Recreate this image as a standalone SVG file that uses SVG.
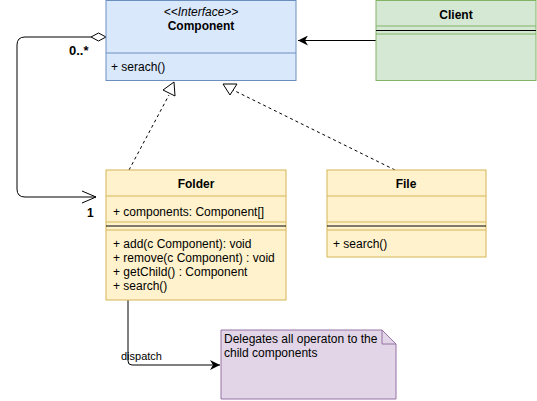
<svg xmlns="http://www.w3.org/2000/svg" width="537" height="401" viewBox="0 0 537 401">
<defs>
<style>
text{font-family:"Liberation Sans",Arial,sans-serif;font-size:12px;fill:#000}
.b{font-weight:bold}
.c{text-anchor:middle}
.blue{fill:#dae8fc;stroke:#6c8ebf}
.green{fill:#d5e8d4;stroke:#82b366}
.yellow{fill:#fff2cc;stroke:#d6b656}
.purple{fill:#e1d5e7;stroke:#9673a6}
.sep{stroke:#000;stroke-width:1}
.edge{fill:none;stroke:#000;stroke-width:1}
.dash{fill:none;stroke:#000;stroke-width:1;stroke-dasharray:3 3}
</style>
<marker id="filled" viewBox="0 0 10 10" refX="10" refY="5" markerWidth="10" markerHeight="10" markerUnits="userSpaceOnUse" orient="auto">
<path d="M0,0 L10,5 L0,10 L3,5 Z" fill="#000"/>
</marker>
</defs>
<g id="connectors">
<path class="edge" d="M376,40.5 H298" marker-end="url(#filled)"/>
<path class="edge" d="M91,37 H25 Q17,37 17,45 V189 Q17,197 25,197 H96"/>
<path class="edge" d="M82,191 L96,197 L82,203"/>
<path d="M106,37 L98.5,33 L91,37 L98.5,41 Z" fill="#fff" stroke="#000"/>
<text x="69" y="54.5" class="b" style="font-size:13px">0..*</text>
<text x="87" y="217" class="b">1</text>
<path class="dash" d="M129,170 L169,95"/>
<path d="M174,82 L163,90 L175,96 Z" fill="#fff" stroke="#000"/>
<path class="dash" d="M395,170 L233,90"/>
<path d="M223,84 L237,84 L230,95 Z" fill="#fff" stroke="#000"/>
<path class="edge" d="M128,300 V361 Q128,365 132,365 H220" marker-end="url(#filled)"/>
<text x="121" y="360" style="font-size:11px">dispatch</text>
</g>
<g id="Component">
<rect class="blue" x="106" y="0.5" width="190" height="80"/>
<line x1="106" y1="53" x2="296" y2="53" stroke="#6c8ebf"/>
<text x="201" y="16" class="c" font-style="italic">&lt;&lt;Interface&gt;&gt;</text>
<text x="201" y="30" class="c b">Component</text>
<text x="111" y="71">+ serach()</text>
</g>
<g id="Client">
<rect class="green" x="376" y="0.5" width="160" height="80"/>
<line x1="376" y1="26" x2="536" y2="26" stroke="#82b366"/>
<line x1="376" y1="34" x2="536" y2="34" stroke="#82b366"/>
<line class="sep" x1="376" y1="30.5" x2="536" y2="30.5"/>
<text x="456" y="19" class="c b">Client</text>
</g>
<g id="Folder">
<rect class="yellow" x="106" y="170" width="180" height="130"/>
<line x1="106" y1="196" x2="286" y2="196" stroke="#d6b656"/>
<line x1="106" y1="222" x2="286" y2="222" stroke="#d6b656"/>
<line x1="106" y1="230" x2="286" y2="230" stroke="#d6b656"/>
<line class="sep" x1="106" y1="226" x2="286" y2="226"/>
<text x="196" y="188" class="c b">Folder</text>
<text x="113" y="216">+ components: Component[]</text>
<text x="113" y="248">+ add(c Component): void</text>
<text x="113" y="262">+ remove(c Component) : void</text>
<text x="113" y="276">+ getChild() : Component</text>
<text x="113" y="290">+ search()</text>
</g>
<g id="File">
<rect class="yellow" x="327" y="170" width="159" height="87"/>
<line x1="327" y1="196" x2="486" y2="196" stroke="#d6b656"/>
<line x1="327" y1="222" x2="486" y2="222" stroke="#d6b656"/>
<line x1="327" y1="230" x2="486" y2="230" stroke="#d6b656"/>
<line class="sep" x1="327" y1="226" x2="486" y2="226"/>
<text x="406" y="188" class="c b">File</text>
<text x="333" y="248">+ search()</text>
</g>
<g id="Note">
<path class="purple" d="M221,330 H382 L396,344 V399 H221 Z"/>
<path d="M382,330 V344 H396" fill="none" stroke="#9673a6"/>
<text x="224" y="343">Delegates all operaton to the</text>
<text x="224" y="357">child components</text>
</g>
</svg>
